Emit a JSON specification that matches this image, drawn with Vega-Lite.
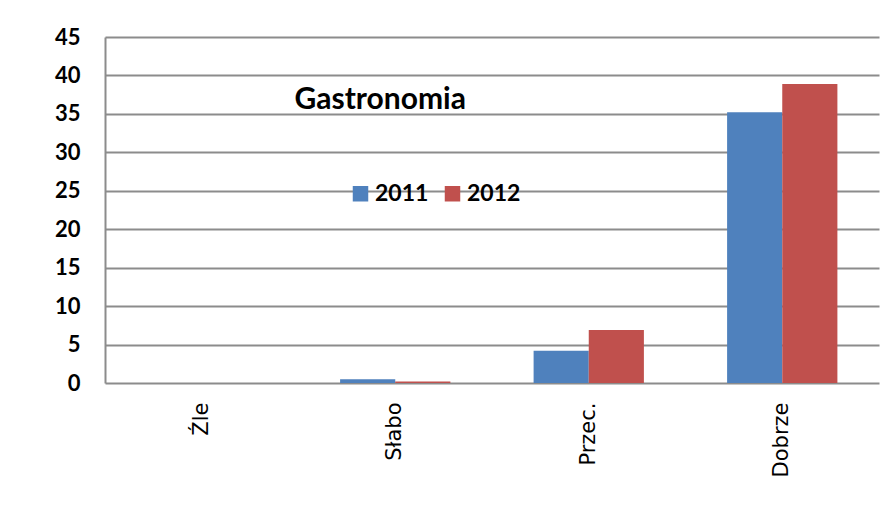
{
  "$schema": "https://vega.github.io/schema/vega-lite/v6.json",
  "width": 774,
  "height": 346,
  "autosize": {"type": "none"},
  "padding": {"left": 105, "top": 37, "right": 11, "bottom": 130},
  "background": "white",
  "title": {"text": "Gastronomia", "anchor": "start", "orient": "top", "dx": 240, "dy": 89, "font": "Lato", "fontSize": 30, "fontWeight": "bold", "color": "black", "offset": 0},
  "data": {"values": [
    {"cat": "Źle", "year": "2011", "value": 0},
    {"cat": "Źle", "year": "2012", "value": 0},
    {"cat": "Słabo", "year": "2011", "value": 0.5},
    {"cat": "Słabo", "year": "2012", "value": 0.2},
    {"cat": "Przec.", "year": "2011", "value": 4.2},
    {"cat": "Przec.", "year": "2012", "value": 6.9},
    {"cat": "Dobrze", "year": "2011", "value": 35.2},
    {"cat": "Dobrze", "year": "2012", "value": 38.9}
  ]},
  "mark": {"type": "bar"},
  "encoding": {
    "x": {"field": "cat", "type": "nominal", "sort": ["Źle", "Słabo", "Przec.", "Dobrze"],
      "scale": {"paddingInner": 0.43, "paddingOuter": 0.215},
      "axis": {"title": null, "labelAngle": -90, "labelFont": "DejaVu Sans", "labelFontSize": 21, "labelColor": "black", "labelPadding": 19, "ticks": false, "domain": false, "grid": false}},
    "xOffset": {"field": "year", "type": "nominal"},
    "y": {"field": "value", "type": "quantitative",
      "scale": {"domain": [0, 45], "nice": false},
      "axis": {"title": null, "values": [0,5,10,15,20,25,30,35,40,45], "labelFont": "Lato", "labelFontSize": 22, "labelFontWeight": "bold", "labelColor": "black", "labelPadding": 25, "ticks": false, "domainColor": "#8c8c8c", "domainWidth": 2, "gridColor": "#8c8c8c", "gridWidth": 2}},
    "color": {"field": "year", "type": "nominal",
      "scale": {"domain": ["2011", "2012"], "range": ["#4f81bd", "#c0504d"]},
      "legend": {"title": null, "orient": "none", "legendX": 244, "legendY": 145, "direction": "horizontal", "symbolType": "square", "symbolSize": 240, "symbolStrokeWidth": 0, "labelFont": "Lato", "labelFontSize": 23, "labelFontWeight": "bold", "labelColor": "black", "columnPadding": 12, "labelOffset": 3}}
  },
  "config": {"view": {"stroke": null}}
}
